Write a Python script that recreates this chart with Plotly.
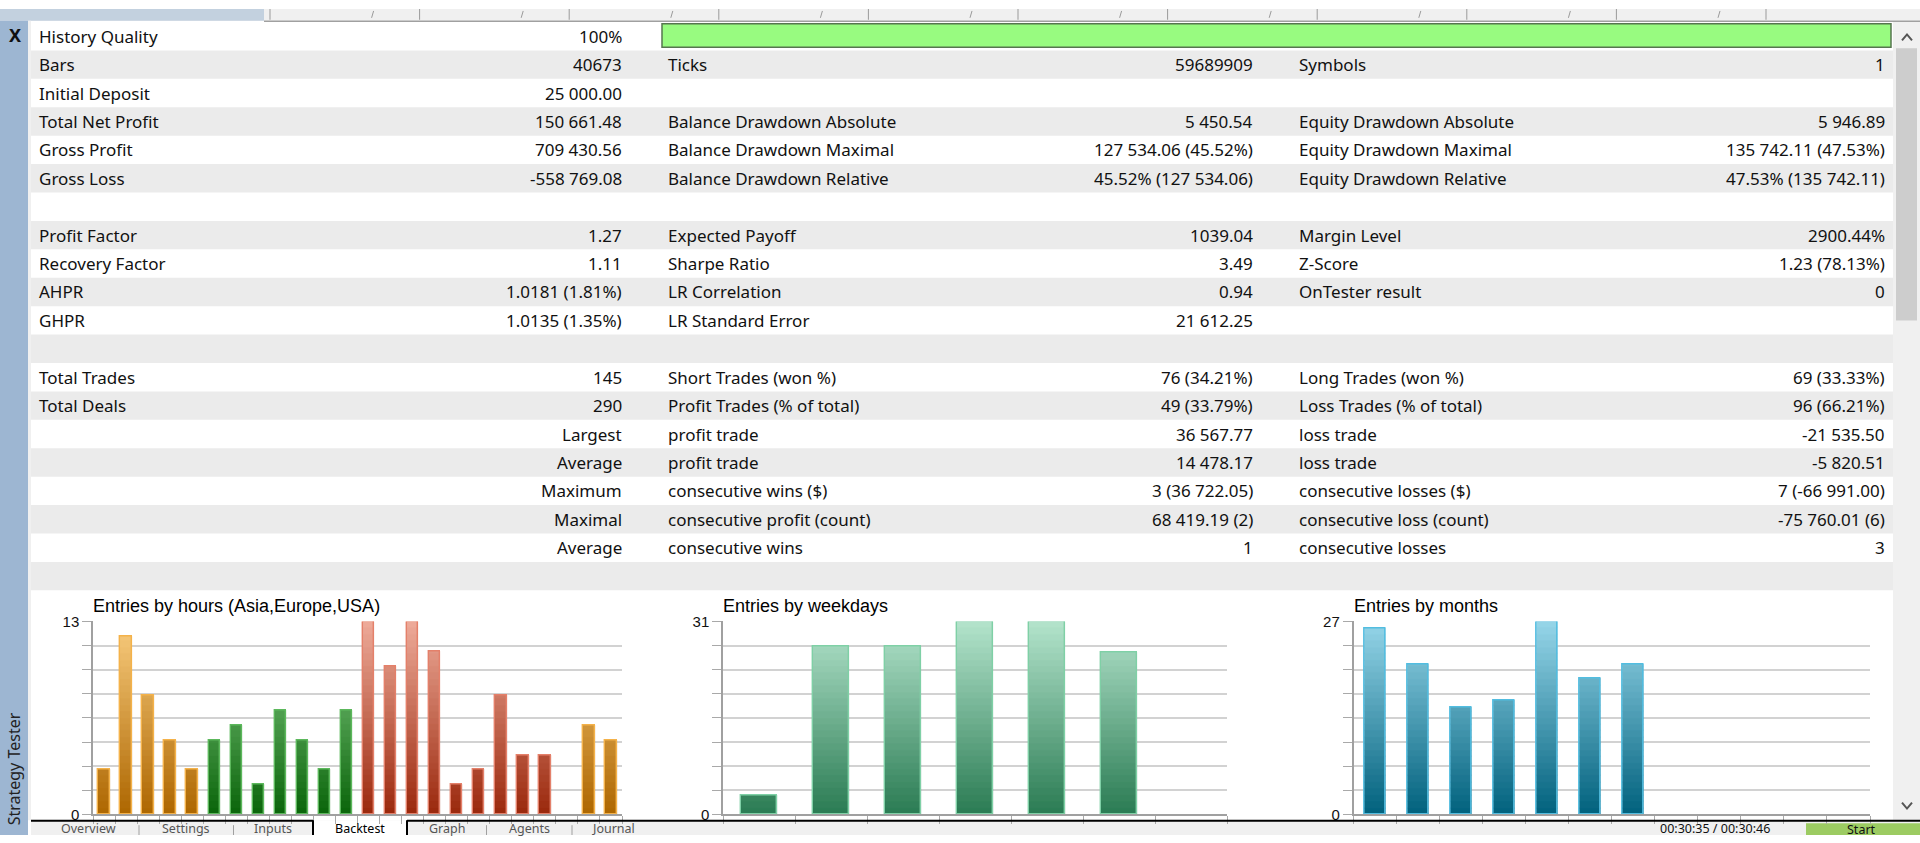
import plotly.graph_objects as go

# ================= data =================

HOURS = list(range(24))
HOUR_ENTRIES = [3, 12, 8, 5, 3, 5, 6, 2, 7, 5, 3, 7, 13, 10, 13, 11, 2, 3, 8, 4, 4, 0, 6, 5]
HOUR_SESSION = ["Asia"] * 5 + ["Europe"] * 7 + ["USA"] * 9 + ["Asia"] * 3
HOURS_MAX = 13

WEEKDAYS = ["Sun", "Mon", "Tue", "Wed", "Thu", "Fri", "Sat"]
WEEKDAY_ENTRIES = [3, 27, 27, 31, 31, 26, 0]
WEEKDAYS_MAX = 31

MONTHS = ["Jan", "Feb", "Mar", "Apr", "May", "Jun", "Jul", "Aug", "Sep", "Oct", "Nov", "Dec"]
MONTH_ENTRIES = [26, 21, 15, 16, 27, 19, 21, 0, 0, 0, 0, 0]
MONTHS_MAX = 27

LABELS_1 = ["History Quality", "Bars", "Initial Deposit", "Total Net Profit", "Gross Profit", "Gross Loss", "",
            "Profit Factor", "Recovery Factor", "AHPR", "GHPR", "",
            "Total Trades", "Total Deals", "Largest", "Average", "Maximum", "Maximal", "Average"]
VALUES_1 = ["100%", "40673", "25 000.00", "150 661.48", "709 430.56", "-558 769.08", "",
            "1.27", "1.11", "1.0181 (1.81%)", "1.0135 (1.35%)", "",
            "145", "290", "", "", "", "", ""]
LABELS_2 = ["", "Ticks", "", "Balance Drawdown Absolute", "Balance Drawdown Maximal", "Balance Drawdown Relative", "",
            "Expected Payoff", "Sharpe Ratio", "LR Correlation", "LR Standard Error", "",
            "Short Trades (won %)", "Profit Trades (% of total)", "profit trade", "profit trade",
            "consecutive wins ($)", "consecutive profit (count)", "consecutive wins"]
VALUES_2 = ["", "59689909", "", "5 450.54", "127 534.06 (45.52%)", "45.52% (127 534.06)", "",
            "1039.04", "3.49", "0.94", "21 612.25", "",
            "76 (34.21%)", "49 (33.79%)", "36 567.77", "14 478.17", "3 (36 722.05)", "68 419.19 (2)", "1"]
LABELS_3 = ["", "Symbols", "", "Equity Drawdown Absolute", "Equity Drawdown Maximal", "Equity Drawdown Relative", "",
            "Margin Level", "Z-Score", "OnTester result", "", "",
            "Long Trades (won %)", "Loss Trades (% of total)", "loss trade", "loss trade",
            "consecutive losses ($)", "consecutive loss (count)", "consecutive losses"]
VALUES_3 = ["", "1", "", "5 946.89", "135 742.11 (47.53%)", "47.53% (135 742.11)", "",
            "2900.44%", "1.23 (78.13%)", "0", "", "",
            "69 (33.33%)", "96 (66.21%)", "-21 535.50", "-5 820.51", "7 (-66 991.00)", "-75 760.01 (6)", "3"]
HISTORY_QUALITY = 100

TABS = ["Overview", "Settings", "Inputs", "Backtest", "Graph", "Agents", "Journal"]

# ================= style =================

W, H = 1920, 843
FONT = "Noto Sans"
CHART_FONT = "Liberation Sans"
ROW_TOP, ROW_H = 13.3, 29.0
N_ROWS = 20
COLS = [(37, 624), (666, 1255), (1297, 1887)]

SESSION_COLORS = {
    # bottom, top, outline
    "Asia": ("#ad6600", "#f9cd80", "#f4b24a"),
    "Europe": ("#0a640a", "#8ed38e", "#5cb85c"),
    "USA": ("#9a280c", "#eeab9a", "#e4806a"),
}
WEEKDAY_COLORS = ("#2a7b53", "#b4e4cc", "#7fd0a6")
MONTH_COLORS = ("#00617d", "#97d6e9", "#52bde0")
BANDS = 30


def fx(x):
    return x / W


def fy(y):
    return 1 - y / H


def rect(x0, y0, x1, y1, fill, line=None, lw=1):
    return dict(type="rect", xref="paper", yref="paper", x0=fx(x0), x1=fx(x1), y0=fy(y1), y1=fy(y0),
                fillcolor=fill, line=dict(color=line or fill, width=lw if line else 0), layer="below")


def seg(x0, y0, x1, y1, color, lw=1):
    return dict(type="line", xref="paper", yref="paper", x0=fx(x0), x1=fx(x1), y0=fy(y0), y1=fy(y1),
                line=dict(color=color, width=lw), layer="above")


def poly(points, color, lw=1.5):
    path = "M" + " L".join(f"{fx(x)},{fy(y)}" for x, y in points)
    return dict(type="path", xref="paper", yref="paper", path=path, line=dict(color=color, width=lw))


def txt(x, y, s, anchor="left", size=17, color="#111", family=FONT, **kw):
    return dict(x=fx(x), y=fy(y), xref="paper", yref="paper", text=s, showarrow=False,
                xanchor=anchor, yanchor="middle", font=dict(family=family, size=size, color=color), **kw)


def mix(c0, c1, t):
    a = [int(c0[i:i + 2], 16) for i in (1, 3, 5)]
    b = [int(c1[i:i + 2], 16) for i in (1, 3, 5)]
    return "#" + "".join(f"{round(p + (q - p) * t):02x}" for p, q in zip(a, b))


def add_gradient_bars(fig, values, vmax, palettes, width, xa, ya):
    """Bars with a vertical gradient that follows the plot height (as the tester draws them)."""
    step = vmax / BANDS
    xs = list(range(len(values)))
    for k in range(BANDS):
        lo = k * step
        ys = [min(step, v - lo) if v > lo else None for v in values]
        cols = [mix(p[0], p[1], (k + 0.5) / BANDS) for p in palettes]
        fig.add_trace(go.Bar(x=xs, y=ys, base=lo, width=width, xaxis=xa, yaxis=ya,
                             marker=dict(color=cols, line=dict(color=cols, width=0.6)),
                             showlegend=False, hoverinfo="skip"))
    fig.add_trace(go.Bar(x=xs, y=[v if v > 0 else None for v in values], width=width, xaxis=xa, yaxis=ya,
                         marker=dict(color="rgba(0,0,0,0)", line=dict(color=[p[2] for p in palettes], width=1.4)),
                         showlegend=False, hovertemplate="%{y}<extra></extra>"))


fig = go.Figure()

# --- charts ---
add_gradient_bars(fig, HOUR_ENTRIES, HOURS_MAX, [SESSION_COLORS[s] for s in HOUR_SESSION], 0.52, "x", "y")
add_gradient_bars(fig, WEEKDAY_ENTRIES, WEEKDAYS_MAX, [WEEKDAY_COLORS] * len(WEEKDAYS), 0.5, "x2", "y2")
add_gradient_bars(fig, MONTH_ENTRIES, MONTHS_MAX, [MONTH_COLORS] * len(MONTHS), 0.49, "x3", "y3")

charts = [
    ("", (93, 622), HOURS, HOURS_MAX, "Entries by hours (Asia,Europe,USA)"),
    ("2", (723, 1227), WEEKDAYS, WEEKDAYS_MAX, "Entries by weekdays"),
    ("3", (1353.5, 1870), MONTHS, MONTHS_MAX, "Entries by months"),
]
CHART_TOP, CHART_BOTTOM = 625, 822

axes = {}
annotations = []
for sfx, (x0, x1), cats, vmax, title in charts:
    n = len(cats)
    axes["xaxis" + sfx] = dict(domain=[fx(x0), fx(x1)], anchor="y" + sfx, range=[-0.5, n - 0.5],
                               tickvals=[i - 0.5 for i in range(n + 1)], showticklabels=False,
                               ticks="outside", ticklen=8, tickcolor="#a9a9a9", showgrid=False,
                               showline=True, linecolor="#a0a0a0", linewidth=1.5, zeroline=False,
                               fixedrange=True)
    axes["yaxis" + sfx] = dict(domain=[fy(CHART_BOTTOM), fy(CHART_TOP)], anchor="x" + sfx, range=[0, vmax],
                               tickvals=[vmax * i / 8 for i in range(9)],
                               ticktext=["0"] + [""] * 7 + [str(vmax)],
                               ticks="outside", ticklen=9, tickcolor="#a9a9a9",
                               showgrid=True, gridcolor="#d2d2d2", gridwidth=2,
                               showline=True, linecolor="#a0a0a0", linewidth=1.5, zeroline=False,
                               tickfont=dict(family=CHART_FONT, size=15, color="#111"), fixedrange=True)
    annotations.append(txt(x0 - 2, 609, title, size=18, family=CHART_FONT, color="#000"))

# --- background shapes ---
shapes = []
shapes.append(rect(0, 0, W, 12, "#f0f0f0"))
shapes.append(rect(0, 0, 264, 12, "#c3d1df"))
for k in range(11):
    mx = 270 + 149.6 * k
    shapes.append(seg(mx, 0, mx, 11, "#9a9a9a", 1))
    if k >= 1:
        shapes.append(seg(mx - 46, 2, mx - 48, 9, "#9a9a9a", 1))
shapes.append(seg(264, 12.5, W, 12.5, "#a0a0a0", 1.5))
shapes.append(rect(0, 12, 28, H, "#9db6d2"))
shapes.append(rect(28, 12, 31, 828, "#f0f0f0"))

for i in range(N_ROWS):
    if i % 2 == 1:
        shapes.append(rect(31, ROW_TOP + i * ROW_H, 1893, ROW_TOP + (i + 1) * ROW_H, "#ebebeb"))

# history quality bar
shapes.append(rect(662, 15, 662 + (1891 - 662) * HISTORY_QUALITY / 100, 39, "#98fb80", "#56754f", 1.5))

# scrollbar
shapes.append(rect(1893, 13, W, 828, "#f0f0f0"))
shapes.append(rect(1896, 40, 1917, 318, "#cdcdcd"))
shapes.append(poly([(1902, 32), (1907, 26), (1912, 32)], "#555555", 2))
shapes.append(poly([(1902, 810), (1907, 816), (1912, 810)], "#555555", 2))

# bottom tab strip
shapes.append(rect(31, 828, W, H, "#f0f0f0"))
shapes.append(rect(313, 828, 407, H, "#ffffff"))
shapes.append(seg(31, 828.5, 313, 828.5, "#000000", 2))
shapes.append(seg(407, 828.5, W, 828.5, "#000000", 2))
shapes.append(seg(313, 828, 313, H, "#000000", 2))
shapes.append(seg(407, 828, 407, H, "#000000", 2))
for sx in (139, 233.5, 486.5, 572):
    shapes.append(seg(sx, 833, sx, H, "#a0a0a0", 1))
shapes.append(rect(1806, 831, W, H, "#9ccb62"))

# --- table text ---
annotations.append(txt(15, 27, "<b>X</b>", anchor="center", size=18, color="#111"))
for i in range(len(LABELS_1)):
    yc = ROW_TOP + (i + 0.5) * ROW_H
    if LABELS_1[i]:
        if 14 <= i <= 18:
            annotations.append(txt(COLS[0][1], yc, LABELS_1[i], anchor="right"))
        else:
            annotations.append(txt(COLS[0][0], yc, LABELS_1[i]))
    for (xl, xr), lab, val in ((COLS[0], None, VALUES_1[i]), (COLS[1], LABELS_2[i], VALUES_2[i]),
                               (COLS[2], LABELS_3[i], VALUES_3[i])):
        if lab:
            annotations.append(txt(xl, yc, lab))
        if val:
            annotations.append(txt(xr, yc, val, anchor="right"))

# --- window chrome text (kept inside the window) ---
annotations.append(txt(14, 776, "Strategy Tester", anchor="center", size=16, color="#222", textangle=-90))
for name, cx in zip(TABS, (88, 186, 273, 360, 447, 529, 613)):
    annotations.append(txt(cx, 836, name, anchor="center", size=12.5,
                           color="#000" if name == "Backtest" else "#555"))
annotations.append(txt(1715, 836, "00:30:35 / 00:30:46", anchor="center", size=12.5, color="#111"))
annotations.append(txt(1861, 837, "Start", anchor="center", size=12.5, color="#111"))

fig.update_layout(
    width=W, height=H,
    margin=dict(l=0, r=0, t=0, b=0),
    paper_bgcolor="#ffffff", plot_bgcolor="rgba(0,0,0,0)",
    barmode="overlay", bargap=0,
    font=dict(family=FONT, size=17, color="#111"),
    shapes=shapes, annotations=annotations,
    showlegend=False,
    **axes,
)

# the page is a bare body; drop its default margin so the figure fills the window exactly
fix_page = (
    "var st=document.createElement('style');"
    "st.textContent='html,body{margin:0!important;padding:0!important;overflow:hidden!important;}';"
    "document.head.appendChild(st);"
)
fig.write_html("out.html", config={"displayModeBar": False}, post_script=fix_page)
